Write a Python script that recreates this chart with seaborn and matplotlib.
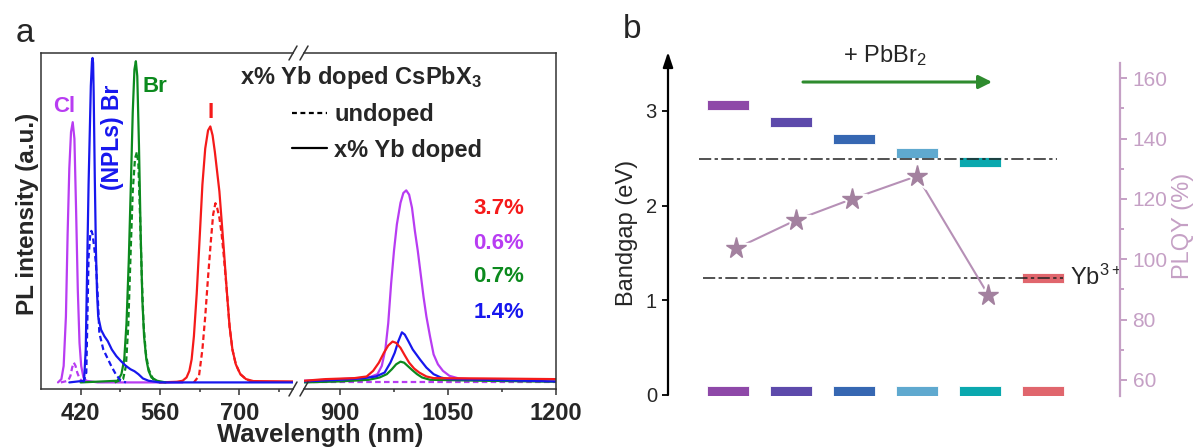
import seaborn as sns
import matplotlib.pyplot as plt
from matplotlib.lines import Line2D
from matplotlib.ticker import MultipleLocator

# style first, fonts after (set_style resets the family)
sns.set_style("white")
plt.rcParams['font.family'] = ['Liberation Sans', 'DejaVu Sans']
plt.rcParams['mathtext.fontset'] = 'custom'
plt.rcParams['mathtext.rm'] = 'Liberation Sans'
plt.rcParams['mathtext.bf'] = 'Liberation Sans:bold'
plt.rcParams['mathtext.it'] = 'Liberation Sans:italic'

# ---------------- panel a : PL spectra ----------------
# visible part (nm, normalised intensity)
cl_doped_nm = [380, 386, 390, 394, 397, 400, 403, 406, 409, 412, 415, 418, 421, 425, 430, 450, 600]
cl_doped_pl = [0, 0.01, 0.05, 0.2, 0.45, 0.65, 0.76, 0.79, 0.74, 0.52, 0.28, 0.12, 0.05, 0.015, 0.005, 0, 0]
cl_undoped_nm = [385, 398, 402, 405, 408, 411, 414, 418, 422, 430]
cl_undoped_pl = [0, 0.005, 0.02, 0.045, 0.06, 0.05, 0.03, 0.012, 0.005, 0]

npl_doped_nm = [400, 426, 429, 432, 434, 436, 438, 440, 441, 442, 443, 445, 447, 449, 451, 456,
                462, 468, 475, 483, 491, 500, 508, 515, 522, 530, 540, 560, 795]
npl_doped_pl = [0, 0.005, 0.10, 0.40, 0.60, 0.75, 0.90, 0.975, 0.985, 0.97, 0.88, 0.62, 0.40, 0.27,
                0.20, 0.16, 0.14, 0.125, 0.10, 0.08, 0.065, 0.05, 0.04, 0.034, 0.025, 0.012, 0.005, 0, 0]
npl_undoped_nm = [425, 430, 432, 434, 437, 439, 441, 444, 447, 450, 453, 460, 467, 474, 482, 491, 500]
npl_undoped_pl = [0, 0.03, 0.2, 0.38, 0.45, 0.46, 0.45, 0.41, 0.36, 0.27, 0.15, 0.10, 0.075, 0.05,
                  0.025, 0.005, 0]

br_doped_nm = [420, 485, 492, 497, 501, 505, 509, 512, 515, 517.5, 520, 523, 526, 529, 532, 536,
               540, 545, 555, 570]
br_doped_pl = [0, 0.005, 0.025, 0.07, 0.18, 0.37, 0.62, 0.82, 0.95, 0.975, 0.93, 0.72, 0.45, 0.25,
               0.14, 0.07, 0.035, 0.015, 0.005, 0]
br_undoped_nm = [480, 495, 500, 504, 508, 512, 516, 519.5, 522, 525, 528, 531, 535, 540, 548, 560]
br_undoped_pl = [0, 0.01, 0.05, 0.17, 0.38, 0.58, 0.68, 0.70, 0.66, 0.50, 0.32, 0.18, 0.09, 0.04,
                 0.01, 0]

i_doped_nm = [560, 590, 600, 607, 612, 616, 620, 625, 629, 635, 640, 645, 649, 653, 657, 661, 665,
              669, 673, 678, 683, 688, 694, 702, 712, 725, 795]
i_doped_pl = [0, 0.002, 0.005, 0.015, 0.035, 0.07, 0.14, 0.27, 0.40, 0.60, 0.71, 0.765, 0.777,
              0.75, 0.70, 0.64, 0.58, 0.49, 0.40, 0.28, 0.17, 0.10, 0.055, 0.025, 0.01, 0.004, 0.003]
i_undoped_nm = [620, 629, 635, 640, 645, 650, 654, 658, 661, 665, 669, 673, 678, 683, 688, 694,
                702, 712, 725]
i_undoped_pl = [0, 0.02, 0.10, 0.20, 0.32, 0.43, 0.51, 0.544, 0.53, 0.50, 0.45, 0.38, 0.28, 0.17,
                0.10, 0.055, 0.025, 0.01, 0]

# near infrared part (Yb3+ emission)
cl_nir_nm = [850, 900, 940, 952, 958, 963, 967, 971, 975, 979, 984, 988, 992, 996, 1000, 1004,
             1008, 1012, 1016, 1020, 1025, 1030, 1036, 1043, 1052, 1065, 1080]
cl_nir_pl = [0.005, 0.01, 0.015, 0.025, 0.05, 0.10, 0.18, 0.30, 0.40, 0.48, 0.545, 0.575, 0.583,
             0.57, 0.53, 0.46, 0.40, 0.33, 0.26, 0.20, 0.14, 0.085, 0.055, 0.035, 0.02, 0.012, 0.01]
cl_nir_undoped_nm = [850, 1200]
cl_nir_undoped_pl = [0.0, 0.0]
npl_nir_nm = [850, 900, 930, 950, 962, 970, 976, 981, 986, 990, 995, 1001, 1006, 1011, 1020,
              1030, 1040, 1050, 1100, 1200]
npl_nir_pl = [0.003, 0.008, 0.012, 0.018, 0.03, 0.06, 0.09, 0.125, 0.152, 0.145, 0.125, 0.10,
              0.085, 0.07, 0.045, 0.025, 0.015, 0.01, 0.008, 0.003]
br_nir_nm = [850, 900, 940, 955, 965, 972, 978, 984, 989, 995, 1000, 1007, 1014, 1025, 1100, 1200]
br_nir_pl = [0.0, 0.003, 0.008, 0.015, 0.025, 0.04, 0.055, 0.063, 0.06, 0.048, 0.038, 0.025,
             0.015, 0.008, 0.005, 0.002]
i_nir_nm = [850, 880, 920, 937, 946, 954, 961, 967, 973, 978, 984, 990, 996, 1003, 1010, 1020,
            1030, 1100, 1200]
i_nir_pl = [0.005, 0.01, 0.013, 0.018, 0.035, 0.06, 0.09, 0.112, 0.124, 0.12, 0.105, 0.082, 0.06,
            0.042, 0.03, 0.018, 0.013, 0.012, 0.01]

doping_labels = ['3.7%', '0.6%', '0.7%', '1.4%']

# ---------------- panel b : band levels and PLQY ----------------
level_x = [1, 2, 3, 4, 5, 6]
cb_energy = [3.06, 2.88, 2.70, 2.56, 2.46, 1.24]
vb_energy = [0.045, 0.045, 0.045, 0.045, 0.045, 0.045]
level_colors = ['#8e48a8', '#5d4aab', '#3667b2', '#5fa9cf', '#0aa8ae', '#e0666d']
ref_energy = [2.49, 1.24]
ref_start = [0.54, 0.60]
ref_end = [6.22, 6.32]
star_x = [1.13, 2.08, 2.97, 4.0, 5.13]
plqy = [103.6, 113.0, 120.0, 127.6, 88.2]
arrow_x = [2.19, 5.19]
arrow_y = 3.306

MAG, BLU, GRN, RED = '#b83cf2', '#1717ee', '#0c8a1e', '#f51a1a'
PLQY_C = '#c5a0c5'

W, H = 1200, 448
fig = plt.figure(figsize=(W / 100, H / 100), dpi=100)


def fx(px):
    return px / W


def fy(py):
    return 1 - py / H


ax_l = fig.add_axes([fx(41), fy(389), (293 - 41) / W, 336 / H])
ax_r = fig.add_axes([fx(304), fy(389), (556 - 304) / W, 336 / H])

solid = '-'
dash = (0, (2.5, 1.5))
vis = [(cl_doped_nm, cl_doped_pl, MAG, solid), (cl_undoped_nm, cl_undoped_pl, MAG, dash),
       (i_doped_nm, i_doped_pl, RED, solid), (i_undoped_nm, i_undoped_pl, RED, dash),
       (br_doped_nm, br_doped_pl, GRN, solid), (br_undoped_nm, br_undoped_pl, GRN, dash),
       (npl_doped_nm, npl_doped_pl, BLU, solid), (npl_undoped_nm, npl_undoped_pl, BLU, dash)]
nir = [(cl_nir_undoped_nm, cl_nir_undoped_pl, MAG, dash), (br_nir_nm, br_nir_pl, GRN, solid),
       (cl_nir_nm, cl_nir_pl, MAG, solid), (npl_nir_nm, npl_nir_pl, BLU, solid),
       (i_nir_nm, i_nir_pl, RED, solid)]
for ax, curves in ((ax_l, vis), (ax_r, nir)):
    for nm, pl, c, ls in curves:
        sns.lineplot(x=nm, y=pl, ax=ax, color=c, lw=1.6, linestyle=ls)

ax_l.set_xlim(350, 795)
ax_r.set_xlim(850, 1200)
for ax in (ax_l, ax_r):
    ax.set_ylim(-0.02, 1.0)
    ax.set_yticks([])
    for s in ax.spines.values():
        s.set_color('#333333')
        s.set_linewidth(1.1)
    ax.tick_params(axis='x', which='major', direction='out', length=4.5, width=1.1, pad=5,
                   bottom=True, color='#333333')
    ax.tick_params(axis='x', which='minor', direction='out', length=2.5, width=1.1,
                   bottom=True, color='#333333')
ax_l.spines['right'].set_visible(False)
ax_r.spines['left'].set_visible(False)
ax_l.set_xticks([420, 560, 700], ['420', '560', '700'], fontsize=17, fontweight='bold')
ax_l.set_xticks([490, 630, 770], minor=True)
ax_r.set_xticks([900, 1050, 1200], ['900', '1050', '1200'], fontsize=17, fontweight='bold')
ax_r.set_xticks([975, 1125], minor=True)

# axis break marks "//"
for bx in (293, 304):
    for by in (53, 389):
        fig.add_artist(Line2D([fx(bx - 4), fx(bx + 4)], [fy(by + 7), fy(by - 7)],
                              color='#333333', lw=1.1, transform=fig.transFigure))

fig.text(fx(320), fy(442), 'Wavelength (nm)', ha='center', va='baseline', fontsize=18.5,
         fontweight='bold')
fig.text(fx(28), fy(214), 'PL intensity (a.u.)', ha='center', va='center', rotation=90,
         fontsize=17.5, fontweight='bold')

# peak labels
fig.text(fx(64), fy(107), 'Cl', color=MAG, fontsize=16, fontweight='bold', ha='center', va='center')
fig.text(fx(112), fy(137), '(NPLs) Br', color=BLU, fontsize=16.5, fontweight='bold',
         ha='center', va='center', rotation=90)
fig.text(fx(155), fy(86), 'Br', color=GRN, fontsize=16, fontweight='bold', ha='center', va='center')
fig.text(fx(211), fy(112), 'I', color=RED, fontsize=16, fontweight='bold', ha='center', va='center')
for lab, c, py in zip(doping_labels, [RED, MAG, GRN, BLU], [208, 243, 277, 312]):
    fig.text(fx(524), fy(py), lab, color=c, fontsize=16, fontweight='bold', ha='right', va='center')

handles = [Line2D([], [], color='black', lw=1.6, linestyle=(0, (2.2, 1.6))),
           Line2D([], [], color='black', lw=1.6)]
fig.legend(handles, ['undoped', 'x% Yb doped'], title=r'x% Yb doped CsPbX$_\mathbf{3}$',
           loc='upper right', bbox_to_anchor=(fx(482), fy(64)), bbox_transform=fig.transFigure,
           frameon=False, alignment='right', borderpad=0, borderaxespad=0,
           handlelength=1.5, handletextpad=0.3, labelspacing=0.52,
           prop={'weight': 'bold', 'size': 17},
           title_fontproperties={'weight': 'bold', 'size': 17})

fig.text(fx(25), fy(33), 'a', fontsize=24, ha='center', va='center')
fig.text(fx(632), fy(30), 'b', fontsize=24, ha='center', va='center')

# ---------------- panel b ----------------
ax_b = fig.add_axes([fx(668), fy(396), (1120 - 668) / W, 344 / H])
ax_b.set_xlim(0.048, 7.22)
ax_b.set_ylim(-0.0106, 3.623)
ax_b.bar(level_x, 0.105, bottom=[e - 0.0525 for e in cb_energy], width=0.667,
         color=level_colors, edgecolor='white', linewidth=0.6, zorder=2)
ax_b.bar(level_x, 0.105, bottom=[e - 0.0525 for e in vb_energy], width=0.667,
         color=level_colors, edgecolor='white', linewidth=0.6, zorder=2)
ax_b.hlines(ref_energy, ref_start, ref_end, colors='#222222', lw=1.1,
            linestyles=[(0, (8, 2.2, 2.2, 2.2))], zorder=3)
ax_b.annotate('', xy=(arrow_x[1], arrow_y), xytext=(arrow_x[0], arrow_y),
              arrowprops=dict(arrowstyle='-|>,head_length=0.8,head_width=0.4', color='#2e8b2e',
                              lw=2.2, mutation_scale=10, shrinkA=0, shrinkB=0))
ax_b.text(3.49, 3.59, r'+ PbBr$_\mathrm{2}$', fontsize=17, ha='center', va='center')
ax_b.text(6.42, cb_energy[-1], r'Yb$^\mathrm{3+}$', fontsize=17, ha='left', va='center')

for s in ax_b.spines.values():
    s.set_visible(False)
ax_b.annotate('', xy=(0, 3.623), xytext=(0, 0), xycoords=('axes fraction', 'data'),
              textcoords=('axes fraction', 'data'),
              arrowprops=dict(arrowstyle='-|>,head_length=0.9,head_width=0.3', color='black',
                              lw=1.6, mutation_scale=10, shrinkA=0, shrinkB=0))
ax_b.set_xticks([])
ax_b.set_yticks([0, 1, 2, 3])
ax_b.tick_params(axis='y', left=True, direction='out', length=4, width=1.3, pad=4,
                 labelsize=14.5, color='black')
fig.text(fx(627), fy(233), 'Bandgap (eV)', rotation=90, fontsize=17, ha='center', va='center')

ax_p = ax_b.twinx()
ax_p.set_ylim(54.69, 168.7)
sns.lineplot(x=star_x, y=plqy, ax=ax_p, color='#b690b6', lw=1.5)
ax_p.plot(star_x, plqy, ls='none', marker='*', ms=23, color='white')
ax_p.plot(star_x, plqy, ls='none', marker='*', ms=15.5, color='#a3819f')
for side in ('left', 'top', 'bottom'):
    ax_p.spines[side].set_visible(False)
ax_p.spines['right'].set_color(PLQY_C)
ax_p.spines['right'].set_linewidth(1.6)
ax_p.spines['right'].set_bounds(54.69, 165)
ax_p.set_yticks([60, 80, 100, 120, 140, 160])
ax_p.yaxis.set_minor_locator(MultipleLocator(10))
ax_p.tick_params(axis='y', which='major', right=True, direction='out', length=5, width=1.4,
                 pad=4, labelsize=15, colors=PLQY_C)
ax_p.tick_params(axis='y', which='minor', right=True, direction='out', length=3, width=1.4,
                 colors=PLQY_C)
fig.text(fx(1183), fy(226), 'PLQY (%)', rotation=90, fontsize=17, ha='center', va='center',
         color=PLQY_C)

plt.savefig('out.png', dpi=100)
